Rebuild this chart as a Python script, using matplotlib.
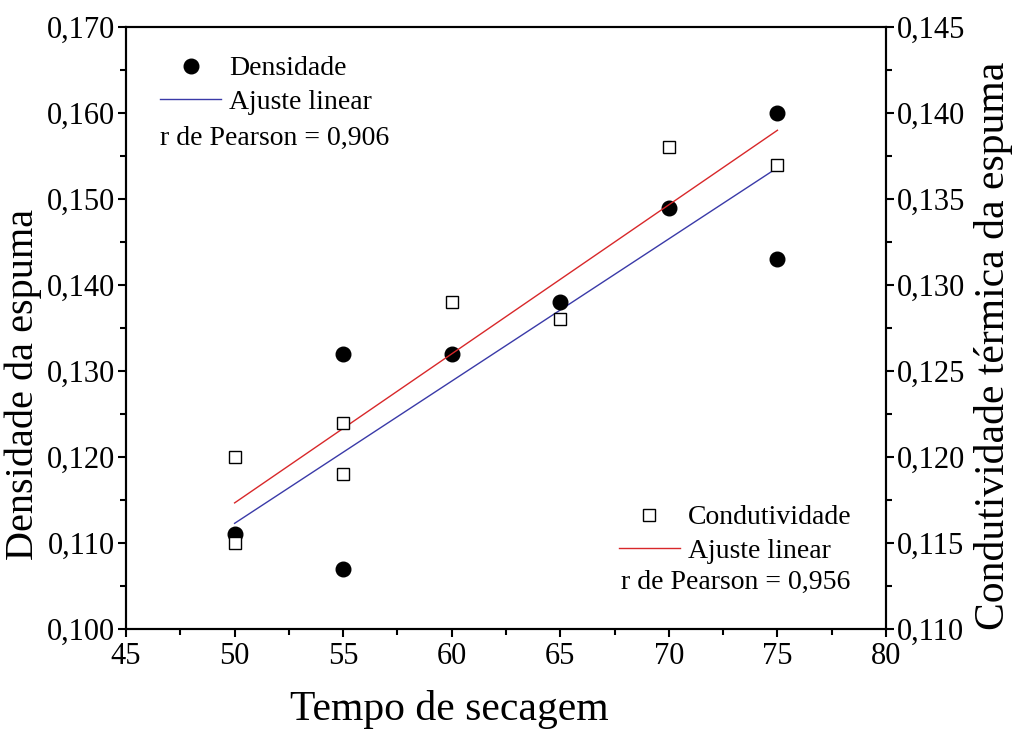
import numpy as np
import matplotlib
matplotlib.use('Agg')
import matplotlib.pyplot as plt
from matplotlib.ticker import MultipleLocator, FuncFormatter
from matplotlib.lines import Line2D

plt.rcParams['font.family'] = ['Liberation Serif', 'DejaVu Serif']

# data
tempo_dens = [50, 55, 55, 60, 65, 70, 75, 75]
densidade = [0.111, 0.132, 0.107, 0.132, 0.138, 0.149, 0.160, 0.143]
tempo_cond = [50, 50, 55, 55, 60, 65, 70, 75]
condutividade = [0.120, 0.115, 0.122, 0.119, 0.129, 0.128, 0.138, 0.137]
r_dens = '0,906'
r_cond = '0,956'

def comma(v, pos):
    return ('%.3f' % v).replace('.', ',')

fig = plt.figure(figsize=(10.14, 7.31), dpi=100)
ax = fig.add_axes([0.1243, 0.1395, 0.7495, 0.8235])
ax2 = ax.twinx()

# linear fits
p1 = np.polyfit(tempo_dens, densidade, 1)
p2 = np.polyfit(tempo_cond, condutividade, 1)
xf = np.array([50, 75])

blue = '#3a3aa8'
red = '#d8282a'
ax.plot(xf, np.polyval(p1, xf), color=blue, lw=1.0, zorder=2)
ax.plot(tempo_dens, densidade, 'o', color='black', ms=10.5, zorder=3)
ax2.plot(xf, np.polyval(p2, xf), color=red, lw=1.0, zorder=2)
ax2.plot(tempo_cond, condutividade, 's', mfc='white', mec='black', mew=1.0, ms=9, zorder=3)

ax.set_xlim(45, 80)
ax.set_ylim(0.100, 0.170)
ax2.set_ylim(0.110, 0.145)

ax.xaxis.set_major_locator(MultipleLocator(5))
ax.xaxis.set_minor_locator(MultipleLocator(2.5))
ax.yaxis.set_major_locator(MultipleLocator(0.01))
ax.yaxis.set_minor_locator(MultipleLocator(0.005))
ax2.yaxis.set_major_locator(MultipleLocator(0.005))
ax2.yaxis.set_minor_locator(MultipleLocator(0.0025))
ax.yaxis.set_major_formatter(FuncFormatter(comma))
ax2.yaxis.set_major_formatter(FuncFormatter(comma))

for a in (ax, ax2):
    a.tick_params(which='major', direction='out', length=6, width=1.5, labelsize=22, pad=2)
    a.tick_params(which='minor', direction='out', length=4, width=1.5)
    for s in a.spines.values():
        s.set_linewidth(1.5)
ax.tick_params(axis='x', which='both', top=False, pad=3)

ax.set_xlabel('Tempo de secagem', fontsize=30)
ax.xaxis.set_label_coords(0.426, -0.133)
ax.xaxis.label.set_va('center')
ax.set_ylabel('Densidade da espuma', fontsize=29)
ax.yaxis.set_label_coords(-0.135, 0.407)
ax.yaxis.label.set_va('center')
ax2.set_ylabel('Condutividade térmica da espuma', fontsize=30)
ax2.yaxis.set_label_coords(1.141, 0.47)
ax2.yaxis.label.set_va('center')

# legends
h1 = [Line2D([], [], ls='none', marker='o', color='black', ms=10.5),
      Line2D([], [], color=blue, lw=1.0)]
ax.legend(h1, ['Densidade', 'Ajuste linear'], loc='upper left',
          bbox_to_anchor=(0.0447, 0.952), frameon=False, fontsize=20,
          handlelength=2.2, handletextpad=0.3, labelspacing=0.3,
          borderpad=0, borderaxespad=0)
ax.text(0.0447, 0.815, 'r de Pearson = ' + r_dens, transform=ax.transAxes,
        fontsize=20, va='center', ha='left')

h2 = [Line2D([], [], ls='none', marker='s', mfc='white', mec='black', ms=9),
      Line2D([], [], color=red, lw=1.0)]
ax2.legend(h2, ['Condutividade', 'Ajuste linear'], loc='lower right',
           bbox_to_anchor=(0.955, 0.108), frameon=False, fontsize=20,
           handlelength=2.2, handletextpad=0.3, labelspacing=0.3,
           borderpad=0, borderaxespad=0)
ax2.text(0.953, 0.078, 'r de Pearson = ' + r_cond, transform=ax.transAxes,
         fontsize=20, va='center', ha='right')

fig.savefig('out.png', dpi=100)
